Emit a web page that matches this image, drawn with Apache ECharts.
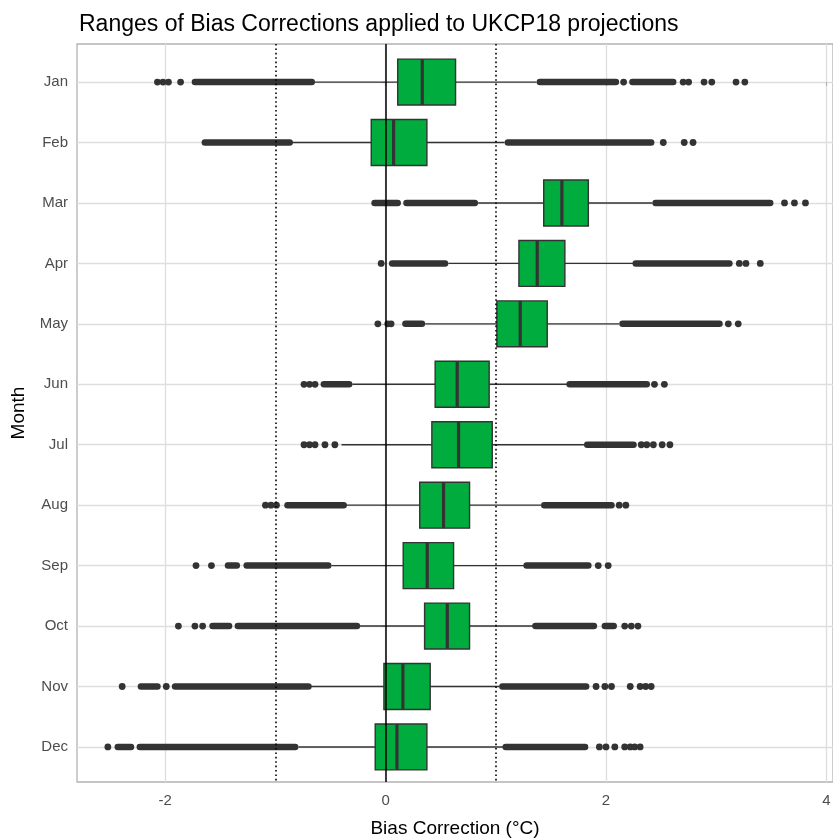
<!DOCTYPE html>
<html>
<head>
<meta charset="utf-8">
<script src="https://cdn.jsdelivr.net/npm/echarts@6/dist/echarts.min.js"></script>
<style>
html,body{margin:0;padding:0;background:#fff;}
#chart{width:833px;height:839px;}
</style>
</head>
<body>
<div id="chart"></div>
<script>
const months = ['Jan','Feb','Mar','Apr','May','Jun','Jul','Aug','Sep','Oct','Nov','Dec'];
const whiskerLow  = [-0.64, -0.85, 0.84, 0.57, 0.36, -0.30, -0.40, -0.36, -0.49, -0.24, -0.68, -0.79];
const q1          = [0.11, -0.13, 1.435, 1.21, 1.01, 0.45, 0.42, 0.31, 0.16, 0.354, -0.015, -0.094];
const median      = [0.333, 0.073, 1.60, 1.376, 1.222, 0.65, 0.662, 0.526, 0.378, 0.56, 0.157, 0.103];
const q3          = [0.635, 0.375, 1.84, 1.627, 1.467, 0.94, 0.968, 0.762, 0.617, 0.762, 0.405, 0.375];
const whiskerHigh = [1.37, 1.08, 2.42, 2.25, 2.12, 1.65, 1.80, 1.41, 1.26, 1.34, 1.03, 1.07];

// dense outlier runs that merge into a continuous band: [monthIndex, from, to]
const outlierRuns = [
  [0,-1.73,-0.67],[0,1.40,2.09],[0,2.24,2.61],
  [1,-1.64,-0.87],[1,1.11,2.41],
  [2,-0.10,0.11],[2,0.19,0.81],[2,2.45,3.49],
  [3,0.06,0.54],[3,2.27,3.12],
  [4,0.18,0.33],[4,2.15,3.03],
  [5,-0.56,-0.33],[5,1.67,2.37],
  [6,1.83,2.25],
  [7,-0.89,-0.38],[7,1.44,2.05],
  [8,-1.43,-1.35],[8,-1.26,-0.52],[8,1.28,1.84],
  [9,-1.57,-1.42],[9,-1.34,-0.26],[9,1.36,1.89],[9,1.99,2.07],
  [10,-2.22,-2.07],[10,-1.91,-0.70],[10,1.06,1.82],
  [11,-2.43,-2.31],[11,-2.23,-0.82],[11,1.09,1.81]
];
// isolated outliers: [monthIndex, value]
const outlierPoints = [
  [0,-2.07],[0,-2.02],[0,-1.97],[0,-1.86],[0,2.16],[0,2.70],[0,2.75],[0,2.89],[0,2.96],[0,3.18],[0,3.26],
  [1,2.52],[1,2.71],[1,2.79],
  [2,3.62],[2,3.71],[2,3.81],
  [3,-0.04],[3,3.21],[3,3.27],[3,3.40],
  [4,-0.07],[4,0.02],[4,0.05],[4,3.11],[4,3.20],
  [5,-0.74],[5,-0.69],[5,-0.64],[5,2.44],[5,2.53],
  [6,-0.74],[6,-0.69],[6,-0.64],[6,-0.55],[6,-0.46],[6,2.32],[6,2.37],[6,2.43],[6,2.51],[6,2.58],
  [7,-1.09],[7,-1.04],[7,-0.99],[7,2.12],[7,2.18],
  [8,-1.72],[8,-1.58],[8,1.93],[8,2.02],
  [9,-1.88],[9,-1.73],[9,-1.66],[9,2.17],[9,2.23],[9,2.29],
  [10,-2.39],[10,-1.99],[10,1.91],[10,1.99],[10,2.05],[10,2.22],[10,2.31],[10,2.36],[10,2.41],
  [11,-2.52],[11,1.94],[11,2.00],[11,2.08],[11,2.17],[11,2.22],[11,2.26],[11,2.31]
];
const xTickValues = [-2, 0, 2, 4];
const refLines = [-1, 0, 1];

const FONT = 'Liberation Sans, Arial, sans-serif';
const DARK = '#333333';
const GREEN = '#00AC3E';

const boxData = months.map((m, i) => [i, whiskerLow[i], q1[i], median[i], q3[i], whiskerHigh[i]]);

const chart = echarts.init(document.getElementById('chart'), null, {renderer: 'canvas'});
chart.setOption({
  animation: false,
  backgroundColor: '#ffffff',
  title: {
    text: 'Ranges of Bias Corrections applied to UKCP18 projections',
    left: 74, top: 8,
    textStyle: {fontFamily: FONT, fontSize: 23, fontWeight: 'normal', color: '#000'}
  },
  grid: {
    left: 77, right: 0, top: 44, bottom: 57,
    outerBoundsMode: 'none', containLabel: false,
    show: true, borderColor: '#B3B3B3', borderWidth: 1.3, backgroundColor: 'transparent'
  },
  xAxis: {
    type: 'value', min: -2.8, max: 4.06, minInterval: 1, maxInterval: 1,
    axisLine: {show: false},
    axisTick: {show: true, length: 4, customValues: xTickValues, lineStyle: {color: '#B3B3B3', width: 1.2}},
    axisLabel: {customValues: xTickValues, color: '#4D4D4D', fontFamily: FONT, fontSize: 15, margin: 11},
    splitLine: {show: true, lineStyle: {color: '#DEDEDE', width: 1.3}},
    name: 'Bias Correction (°C)', nameLocation: 'middle', nameGap: 37,
    nameTextStyle: {fontFamily: FONT, fontSize: 19, color: '#000'}
  },
  yAxis: {
    type: 'value', inverse: true, min: -0.63, max: 11.58, minInterval: 1, maxInterval: 1,
    axisLine: {show: false},
    axisTick: {show: true, length: 4, customValues: months.map((m, i) => i), lineStyle: {color: '#B3B3B3', width: 1.2}},
    axisLabel: {
      customValues: months.map((m, i) => i),
      formatter: v => months[Math.round(v)] || '',
      color: '#4D4D4D', fontFamily: FONT, fontSize: 15, margin: 9
    },
    splitLine: {show: true, lineStyle: {color: '#DEDEDE', width: 1.3}},
    name: 'Month', nameLocation: 'middle', nameGap: 44, nameRotate: 90,
    nameTextStyle: {fontFamily: FONT, fontSize: 19, color: '#000'}
  },
  series: [
    {
      type: 'line', data: [], z: 1, silent: true,
      markLine: {
        silent: true, symbol: 'none', label: {show: false},
        data: refLines.map(v => ({
          xAxis: v,
          lineStyle: v === 0 ? {color: '#000', width: 1.5, type: 'solid'}
                             : {color: '#000', width: 1.6, type: [1.6, 2.8]}
        }))
      }
    },
    {
      type: 'custom', z: 3, silent: true,
      data: boxData,
      encode: {x: [1, 2, 3, 4, 5], y: 0},
      renderItem: function (params, api) {
        const i = api.value(0);
        const wl = api.coord([api.value(1), i]);
        const a = api.coord([api.value(2), i]);
        const md = api.coord([api.value(3), i]);
        const b = api.coord([api.value(4), i]);
        const wh = api.coord([api.value(5), i]);
        const half = api.size([0, 1])[1] * 0.38;
        return {
          type: 'group',
          children: [
            {type: 'line', shape: {x1: wl[0], y1: wl[1], x2: a[0], y2: a[1]}, style: {stroke: DARK, lineWidth: 1.4}},
            {type: 'line', shape: {x1: b[0], y1: b[1], x2: wh[0], y2: wh[1]}, style: {stroke: DARK, lineWidth: 1.4}},
            {type: 'rect', shape: {x: a[0], y: a[1] - half, width: b[0] - a[0], height: 2 * half},
             style: {fill: GREEN, stroke: DARK, lineWidth: 1.4}},
            {type: 'line', shape: {x1: md[0], y1: md[1] - half, x2: md[0], y2: md[1] + half},
             style: {stroke: DARK, lineWidth: 3.2}}
          ]
        };
      }
    },
    {
      type: 'custom', z: 4, silent: true,
      data: outlierRuns,
      encode: {x: [1, 2], y: 0},
      renderItem: function (params, api) {
        const i = api.value(0);
        const p1 = api.coord([api.value(1), i]);
        const p2 = api.coord([api.value(2), i]);
        return {type: 'line', shape: {x1: p1[0], y1: p1[1], x2: p2[0], y2: p2[1]},
                style: {stroke: DARK, lineWidth: 6.5, lineCap: 'round'}};
      }
    },
    {
      type: 'scatter', z: 4, silent: true,
      symbol: 'circle', symbolSize: 6.8,
      itemStyle: {color: DARK, opacity: 1},
      data: outlierPoints.map(p => [p[1], p[0]])
    }
  ]
});
</script>
</body>
</html>
